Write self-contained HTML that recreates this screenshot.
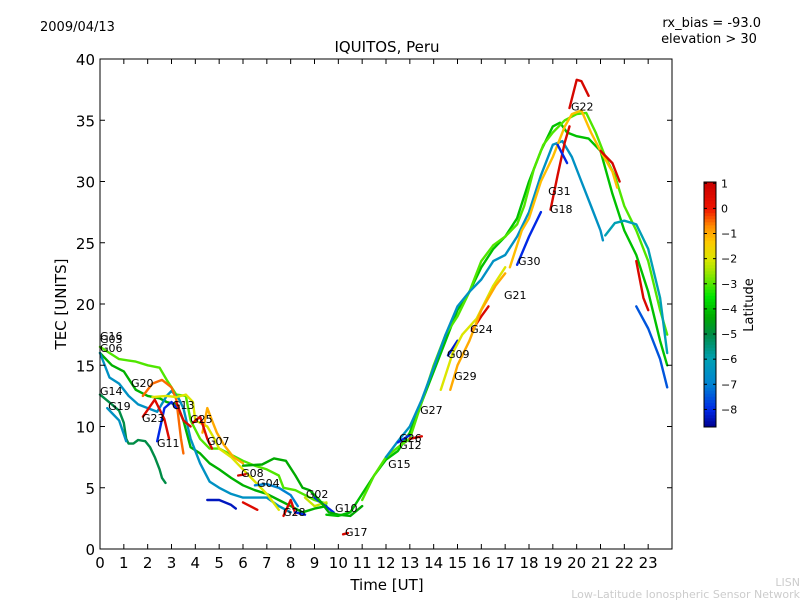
<!DOCTYPE html>
<html><head><meta charset="utf-8"><style>
html,body{margin:0;padding:0;background:#fff;}
svg{display:block;font-family:"DejaVu Sans","Liberation Sans",sans-serif;}
</style></head><body>
<svg id="chart" width="800" height="600" viewBox="0 0 800 600" xmlns="http://www.w3.org/2000/svg">
<rect width="800" height="600" fill="#fff"/>
<text x="40" y="31" font-size="13">2009/04/13</text>
<text x="761" y="27" font-size="13" text-anchor="end">rx_bias = -93.0</text>
<text x="709" y="43" font-size="13" text-anchor="middle">elevation &gt; 30</text>
<text x="387" y="52" font-size="15" text-anchor="middle">IQUITOS, Peru</text>
<text x="387" y="590" font-size="15" text-anchor="middle">Time [UT]</text>
<text transform="translate(66,304) rotate(-90)" font-size="15" text-anchor="middle">TEC [UNITS]</text>
<text transform="translate(753,305) rotate(-90)" font-size="13" text-anchor="middle">Latitude</text>
<text x="800" y="586" font-size="11" fill="#ccc" text-anchor="end">LISN</text>
<text x="800" y="598" font-size="11" fill="#ccc" text-anchor="end">Low-Latitude Ionospheric Sensor Network</text>
<g id="plot"></g>
<g id="cbar"></g>
</svg>
<script>
const xTicks=[0,1,2,3,4,5,6,7,8,9,10,11,12,13,14,15,16,17,18,19,20,21,22,23];
const yTicks=[0,5,10,15,20,25,30,35,40];
const cbTicks=[1,0,-1,-2,-3,-4,-5,-6,-7,-8];
const latMin=-8.7, latMax=1.05;
const trackLats=[-3,-4.2,-5,-6.5,-6.5,-0.5,-2,-1,-8,0.5,0.6,0.6,0.7,-7,-8.3,0.5,0.6,-8,-2.2,-8,-4.3,-4,-3,-6.5,-6,-7.5,-1.2,0.7,0.6,0.7,0.6,-8,-8,-8.2,0.6,-2,-1,0.7,0.6,-8];
const trackPoints=[
[[0,16.5],[0.8,15.5],[1.5,15.3],[2,15],[2.5,14.8],[2.8,13.8],[3.2,12.6],[3.6,12.5],[3.8,10.5],[4.2,9],[4.6,8.2],[5,8.2],[5.5,7.7],[6,7.2],[6.5,6.8],[7,6.5],[7.5,6.0],[7.7,5],[8.2,4.8],[8.6,4.4],[9,4],[9.5,3.7]],
[[0,16],[0.5,15],[1,14.5],[1.5,13],[2,12.5],[2.5,12.3],[2.8,12.0],[3.2,11.8],[3.5,10.5],[3.8,8.3],[4.2,7.8],[4.6,7.0],[5,6.5],[5.5,5.8],[6,5.2],[6.5,4.8],[7,4.5],[7.5,4.0],[8,3.5],[8.5,3.0],[9,3.3],[9.5,3.5]],
[[0,12.6],[0.5,11.8],[0.8,11.3],[1,10.3],[1.1,9],[1.2,8.6],[1.4,8.6],[1.6,8.9],[1.9,8.8],[2.1,8.3],[2.3,7.5],[2.5,6.5],[2.6,5.8],[2.75,5.4]],
[[0.3,11.5],[0.5,11.1],[0.8,10.5],[1.1,8.8]],
[[0,16],[0.4,14],[0.8,13.5],[1.2,12.5],[1.6,11.8],[2,11.5],[2.4,11.2],[2.8,12.5],[3.0,12.9],[3.3,12.3],[3.5,11.5],[3.8,9],[4.2,7],[4.6,5.5],[5,5],[5.5,4.5],[6,4.2],[6.5,4.2],[7,4.2],[7.5,3.5],[8,3.0]],
[[1.8,12.5],[2.2,13.5],[2.6,13.8],[3,13.2],[3.2,12.2],[3.4,9],[3.5,7.8]],
[[2.2,12.4],[2.8,12.5],[3.2,12.4],[3.6,12.6],[3.9,12.0],[4.0,10.5],[4.5,10],[4.8,9],[5,8.2],[5.5,7.5],[6,6.5],[6.5,5.5],[7,4.5],[7.5,3.2]],
[[4.3,9.5],[4.5,11.5],[4.7,10.5],[4.9,9.5],[5.2,8.5],[5.6,7.5],[6,7.0]],
[[2.4,8.8],[2.7,11.5],[3,12],[3.2,11.5]],
[[1.8,10.8],[2.3,12.2],[2.7,10.6],[2.9,9.0]],
[[3.2,12],[3.5,10.5],[3.8,10.0]],
[[3.9,10.3],[4.2,10.8],[4.5,9],[4.7,8.2]],
[[5.8,6],[6.1,6.1]],
[[6.5,5.2],[7,5.3],[7.5,5.0],[8,4.4],[8.3,3.5]],
[[4.5,4.0],[5,4.0],[5.5,3.6],[5.7,3.3]],
[[6,3.8],[6.6,3.2]],
[[7.7,2.7],[8,4],[8.2,2.9]],
[[8.2,3.0],[8.6,2.8]],
[[8.6,4.2],[9,3.5],[9.5,3.8]],
[[9,4.2],[9.8,3]],
[[6,6.8],[6.8,6.9],[7.3,7.4],[7.8,7.2],[8.2,6],[8.5,5],[8.8,4.8],[9.2,4.0],[9.6,3.0],[10,2.8],[10.5,2.7],[11,3.5]],
[[9.5,2.8],[10,2.7],[10.5,3],[11,4.5],[11.5,6],[12,7.3],[12.5,8],[13,9.5],[13.5,12],[14,14.5],[14.5,17],[15,19.5],[15.5,21],[16,23],[16.5,24.5],[17,25.5],[17.5,27],[18,30],[18.5,32.5],[19,34.5],[19.3,34.8],[19.6,34],[20,33.7],[20.5,33.5],[21,32.5],[21.5,29],[22,26],[22.5,24],[23,21],[23.5,17],[23.8,15]],
[[11,4],[11.5,6],[12,7.5],[12.5,8.3],[13,9],[13.5,12],[14,15],[14.5,17.5],[15,19],[15.5,21],[16,23.5],[16.5,24.8],[17,25.5],[17.5,26.5],[17.8,28],[18.2,31],[18.6,33],[19,34],[19.5,35],[20,35.5],[20.4,35.6],[20.8,34],[21.2,32],[21.6,30.5],[22,28],[22.5,26],[23,23.5],[23.5,19.5],[23.8,17.5]],
[[12,7.5],[12.5,8.8],[13,10],[13.5,12.2],[14,14.8],[14.5,17.5],[15,19.8],[15.5,21],[16,22],[16.5,23.5],[17,24],[17.5,25.5],[18,27.5],[18.5,30.5],[19,33],[19.4,33.3],[19.8,32],[20.2,30],[20.6,28],[21.0,26],[21.1,25.2]],
[[21.2,25.6],[21.6,26.6],[22,26.8],[22.5,26.5],[23,24.5],[23.5,20.5],[23.8,16]],
[[22.5,19.8],[23,18],[23.5,15.5],[23.8,13.2]],
[[17.2,23],[17.7,26],[18,27],[18.5,30],[19,32],[19.5,34.5],[19.8,35.5],[20.2,35.8],[20.6,34],[21,32.5],[21.5,30.8],[21.7,29.5]],
[[19.7,36],[20,38.3],[20.2,38.2],[20.5,37]],
[[18.9,27.7],[19.2,30.5],[19.5,33.2],[19.7,34.5]],
[[21,32.5],[21.5,31.5],[21.8,30]],
[[22.5,23.5],[22.8,20.5],[23,19.5]],
[[17.5,23.2],[18,25.5],[18.5,27.5]],
[[19.2,33],[19.6,31.5]],
[[14.6,15.8],[15,17]],
[[15.6,17.8],[16,19],[16.3,19.8]],
[[14.3,13],[14.8,16],[15.2,17.5],[15.8,18.8],[16.5,21.5],[17,23]],
[[14.7,13],[15,15],[15.5,17],[16,19.5],[16.6,21.5],[17,22.5]],
[[10.2,1.2],[10.4,1.3]],
[[13,9],[13.5,9.2]],
[[12.5,8.7],[13,9.3]]
];
const labelNames=["G16","G03","G06","G14","G19","G20","G23","G13","G11","G25","G07","G08","G04","G02","G28","G10","G17","G15","G26","G12","G27","G09","G29","G24","G21","G30","G18","G31","G22"];
const labelT=[0,0,0,0,0.34,1.30,1.76,3.02,2.39,3.78,4.49,5.92,6.59,8.64,7.68,9.86,10.28,12.09,12.55,12.55,13.43,14.56,14.86,15.53,16.95,17.54,18.88,18.8,19.76];
const labelV=[17.06,16.82,16.08,12.57,11.35,13.22,10.37,11.43,8.33,10.29,8.49,5.88,5.06,4.16,2.69,3.02,1.06,6.61,8.73,8.16,11.02,15.59,13.8,17.63,20.41,23.18,27.43,28.9,35.8];

const X0=100,X1=672,Y0=549,Y1=59;
const xs=t=>X0+t*(X1-X0)/24;
const ys=v=>Y0-v*(Y0-Y1)/40;
const NS="http://www.w3.org/2000/svg";
function mk(tag,attrs,parent){const e=document.createElementNS(NS,tag);for(const k in attrs)e.setAttribute(k,attrs[k]);parent.appendChild(e);return e;}
const cmapStops=[[-8.7,0,0,140],[-8,0,40,230],[-7,0,130,210],[-6,0,160,180],[-5,0,140,70],[-4.3,0,170,0],[-3.5,0,230,0],[-2.5,160,230,0],[-2,220,230,0],[-1.3,255,200,0],[-0.7,255,140,0],[0,240,20,0],[1.05,200,0,0]];
function latColor(l){
  if(l<=cmapStops[0][0]){const s=cmapStops[0];return `rgb(${s[1]},${s[2]},${s[3]})`;}
  for(let i=1;i<cmapStops.length;i++){const a=cmapStops[i-1],b=cmapStops[i];
    if(l<=b[0]){const f=(l-a[0])/(b[0]-a[0]);const m=k=>Math.round(a[k]+(b[k]-a[k])*f);return `rgb(${m(1)},${m(2)},${m(3)})`;}}
  const s=cmapStops[cmapStops.length-1];return `rgb(${s[1]},${s[2]},${s[3]})`;
}
const plot=document.getElementById('plot');
trackPoints.forEach((pts,i)=>{
  const p=mk('polyline',{points:pts.map(q=>xs(q[0]).toFixed(1)+','+ys(q[1]).toFixed(1)).join(' '),fill:'none',stroke:latColor(trackLats[i]),'stroke-width':2.4,'stroke-linejoin':'round','stroke-linecap':'round'},plot);
  
  
});
labelNames.forEach((n,i)=>{
  const t=mk('text',{x:xs(labelT[i]),y:ys(labelV[i]),'font-size':11},plot);
  t.textContent=n;
  
  
});
mk('rect',{x:X0,y:Y1,width:X1-X0,height:Y0-Y1,fill:'none',stroke:'#000','stroke-width':1},plot);
xTicks.forEach(t=>{
  const x=xs(t);
  mk('line',{x1:x,x2:x,y1:Y0,y2:Y0-5,stroke:'#000'},plot);
  mk('line',{x1:x,x2:x,y1:Y1,y2:Y1+5,stroke:'#000'},plot);
  const l=mk('text',{x:x,y:Y0+19,'font-size':15,'text-anchor':'middle'},plot);
  l.textContent=t;
  
  
});
yTicks.forEach(v=>{
  const y=ys(v);
  mk('line',{x1:X0,x2:X0+5,y1:y,y2:y,stroke:'#000'},plot);
  mk('line',{x1:X1,x2:X1-5,y1:y,y2:y,stroke:'#000'},plot);
  const l=mk('text',{x:X0-5,y:y+6,'font-size':15,'text-anchor':'end'},plot);
  l.textContent=v;
  
  
});
const cb=document.getElementById('cbar');
const CX=704,CW=12,CT=182,CB=427;
const cy=l=>CB-(l-latMin)/(latMax-latMin)*(CB-CT);
for(let i=0;i<80;i++){const l0=latMin+(latMax-latMin)*i/80,l1=latMin+(latMax-latMin)*(i+1)/80;
  mk('rect',{x:CX,y:cy(l1),width:CW,height:cy(l0)-cy(l1)+0.5,fill:latColor((l0+l1)/2)},cb);}
mk('rect',{x:CX,y:CT,width:CW,height:CB-CT,fill:'none',stroke:'#000'},cb);
cbTicks.forEach(v=>{const y=cy(v);
  mk('line',{x1:CX,x2:CX+3,y1:y,y2:y,stroke:'#000'},cb);
  mk('line',{x1:CX+CW,x2:CX+CW-3,y1:y,y2:y,stroke:'#000'},cb);
  const l=mk('text',{x:CX+CW+5,y:y+4,'font-size':11},cb);
  l.textContent=v<0?'\u2212'+(-v):v;
  
  
});
</script>
</body></html>
